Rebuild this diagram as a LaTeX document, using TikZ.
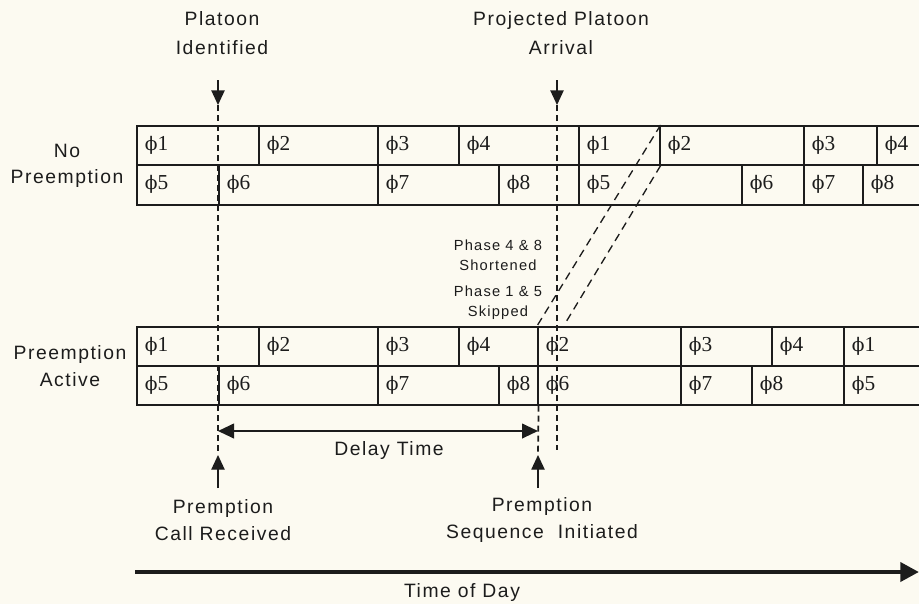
\documentclass[tikz,border=0pt]{standalone}
\usepackage{fontspec}
\setmainfont{Liberation Sans}[LetterSpace=8]
\newfontfamily\cellfont{Liberation Serif}
\newfontfamily\phifont{DejaVu Serif}
\usetikzlibrary{arrows.meta}

\definecolor{paper}{RGB}{252,250,241}
\definecolor{ink}{RGB}{28,28,28}

% one row of phase cells: prefix, top, bottom, list of start/end/phase
\newcommand{\phaserow}[4]{%
  \foreach \xa/\xb/\ph [count=\i] in {#4}{
    \pgfmathsetmacro{\cw}{(\xb-\xa)*0.75}
    \pgfmathsetmacro{\ch}{(#3-#2)*0.75}
    \node[cell, minimum width=\cw pt, minimum height=\ch pt] (#1\i) at (\xa,#2) {};
    \node[phase] at ([xshift=6.5pt]#1\i.west) {{\phifont\fontsize{14}{14}\selectfont ϕ}\ph};
  }%
}

\begin{document}
\begin{tikzpicture}[x=0.75pt, y=-0.75pt, ink,
        cell/.style={draw=ink, line width=1.2pt, rectangle, anchor=north west, inner sep=0pt},
        phase/.style={anchor=west, inner sep=0pt, font=\cellfont\fontsize{16}{16}\selectfont},
        lbl/.style={align=center, font=\fontsize{14.5}{20}\selectfont},
        note/.style={align=center, font=\fontsize{11}{15}\selectfont},
        timeline/.style={dash pattern=on 4.5pt off 3pt, line width=1.3pt},
        slant/.style={dash pattern=on 6pt off 4pt, line width=1pt},
        pointer/.style={line width=1pt, -{Triangle[length=11pt,width=10pt]}}]

    \fill[paper] (0,0) rectangle (919,604);
    \useasboundingbox (0,0) rectangle (919,604);

    % no preemption
    \phaserow{NA}{125}{164}{136/258/1, 258/377/2, 377/458/3, 458/578/4, 578/659/1, 659/803/2, 803/876/3, 876/925/4}
    \phaserow{NB}{164}{204}{136/218/5, 218/377/6, 377/498/7, 498/578/8, 578/741/5, 741/803/6, 803/862/7, 862/925/8}

    % preemption active
    \phaserow{PA}{326}{365}{136/258/1, 258/377/2, 377/458/3, 458/537/4, 537/680/2, 680/771/3, 771/843/4, 843/925/1}
    \phaserow{PB}{365}{404}{136/218/5, 218/377/6, 377/498/7, 498/537/8, 537/680/6, 680/751/7, 751/843/8, 843/925/5}

    \node[lbl] (NP) at (67,166) {No\\Preemption};
    \node[lbl] (PR) at (70,366) {Preemption\\Active};

    % platoon identified / call received
    \node[lbl, font=\fontsize{14.5}{22}\selectfont] (PI) at (222,33) {Platoon\\Identified};
    \coordinate (PIa) at (218,80);
    \coordinate (PIb) at (218,105);
    \coordinate (CRb) at (218,455);
    \coordinate (CRa) at (218,488);
    \node[lbl] (CR) at (223,520) {Premption\\Call Received};
    \draw[pointer] (PIa) -- (PIb);
    \draw[timeline] (PIb) -- (CRb);
    \draw[pointer] (CRa) -- (CRb);

    % projected arrival
    \node[lbl, font=\fontsize{14.5}{22}\selectfont] (PP) at (561,33) {Projected Platoon\\Arrival};
    \coordinate (PPa) at (557,80);
    \coordinate (PPb) at (557,105);
    \coordinate (PPc) at (557,450);
    \draw[pointer] (PPa) -- (PPb);
    \draw[timeline] (PPb) -- (PPc);

    % sequence initiated
    \coordinate (SIb) at (538,455);
    \coordinate (SIa) at (538,488);
    \node[lbl] (SI) at (542,520) {Premption\\Sequence\ \ Initiated};
    \draw[timeline] (PB4.south east) -- (SIb);
    \draw[pointer] (SIa) -- (SIb);

    % delay
    \coordinate (DLa) at (218,431);
    \coordinate (DLb) at (538,431);
    \draw[line width=1.5pt, {Triangle[length=12pt,width=11pt]}-{Triangle[length=12pt,width=11pt]}] (DLa) -- (DLb);
    \node[lbl] (DT) at (389,450) {Delay Time};

    % shifted phases
    \coordinate (SK) at (566,322);
    \draw[slant] (NA5.north east) -- (PA5.north west);
    \draw[slant] (NA5.south east) -- (SK);
    \node[note] (SH) at (498,255) {Phase 4 \& 8\\Shortened};
    \node[note] (SP) at (498,303) {Phase 1 \& 5\\Skipped};

    % time axis
    \coordinate (TA) at (135,572);
    \coordinate (TB) at (919,572);
    \draw[line width=3.5pt, -{Triangle[length=14pt,width=14pt]}] (TA) -- (TB);
    \node[lbl] (TD) at (462,592) {Time of Day};
\end{tikzpicture}
\end{document}
